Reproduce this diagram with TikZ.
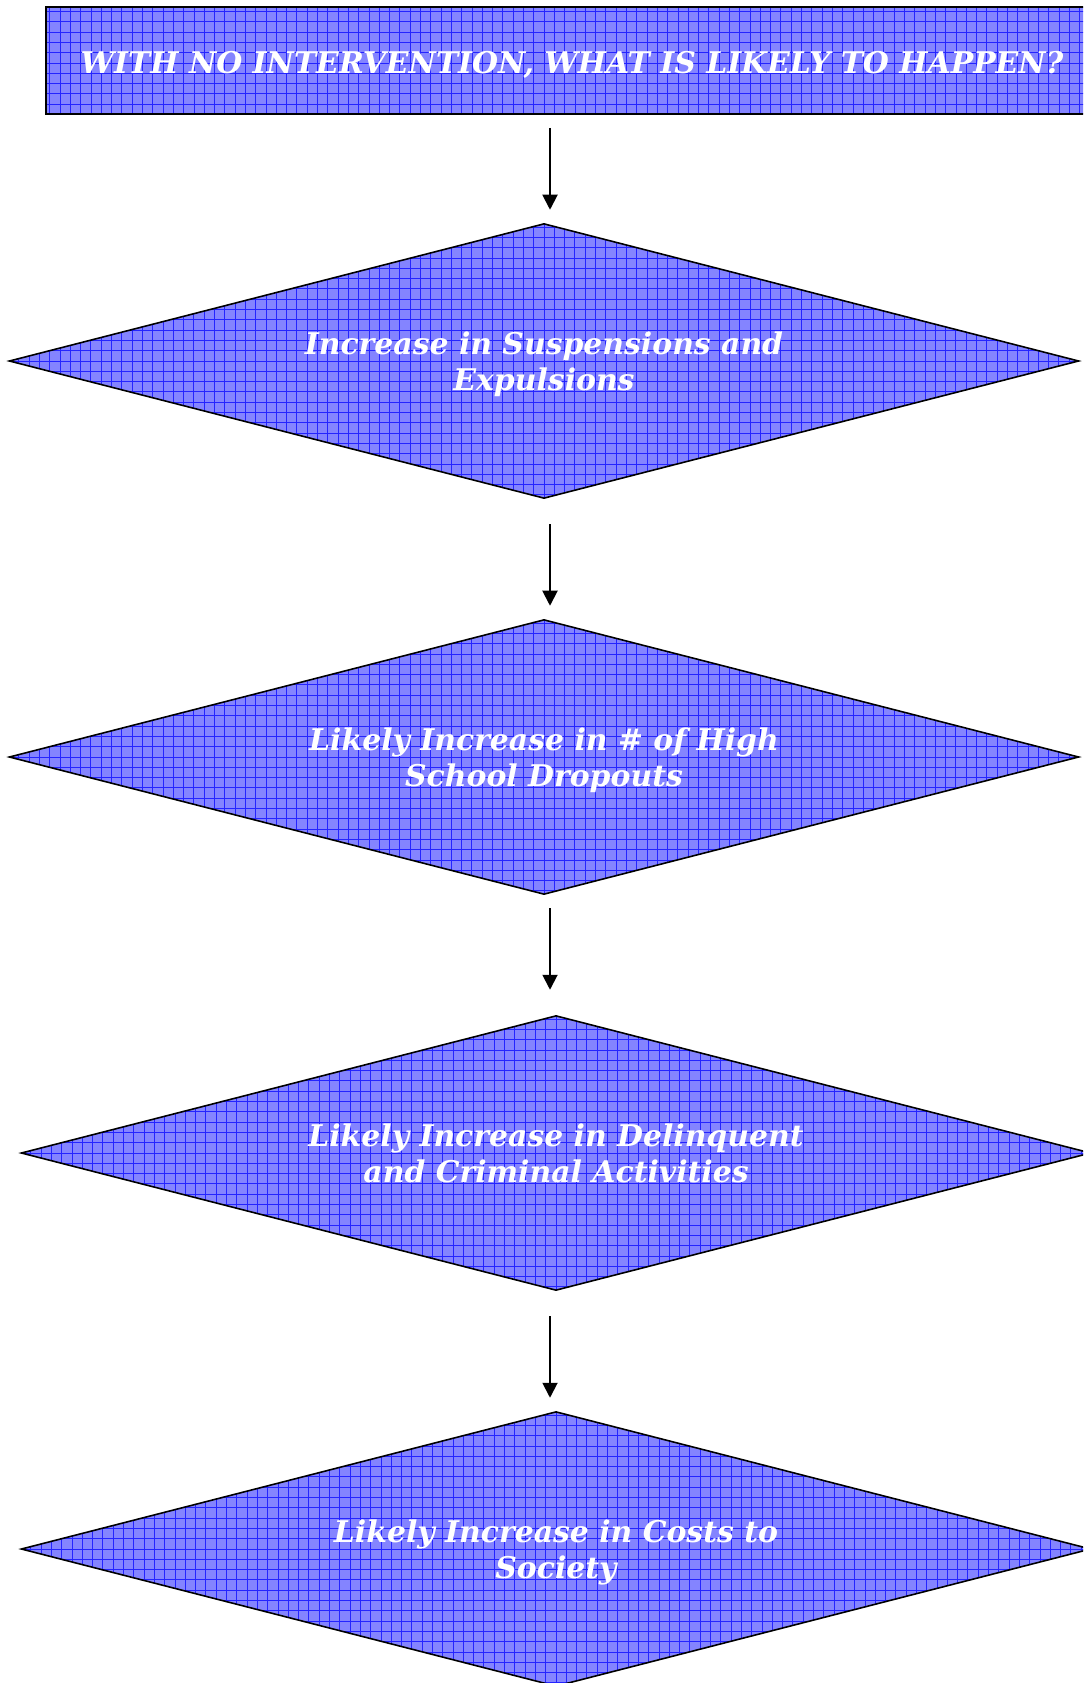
\documentclass[tikz,border=0pt]{standalone}
\usepackage{fontspec}
\setmainfont{DejaVu Serif}
\usetikzlibrary{shapes.geometric,arrows.meta}
\definecolor{patfill}{RGB}{132,132,255}
\definecolor{patline}{RGB}{36,36,255}

\begin{document}
\begin{tikzpicture}[x=0.02cm,y=-0.02cm,
    gridfill/.style={fill=patfill,
      path picture={\draw[line width=0.5pt, color=patline] (path picture bounding box.south west) grid[step=0.206cm] (path picture bounding box.north east);}},
    label text/.style={text=white, align=center, font=\bfseries\itshape\fontsize{17}{20.5}\selectfont},
    qbox/.style={draw, line width=0.9pt, gridfill, rectangle, minimum width=21.04cm, minimum height=2.14cm, inner sep=0pt, text height=17pt, text depth=2.4pt, label text},
    dbox/.style={draw, line width=0.9pt, gridfill, diamond, aspect=3.9, minimum width=21.4cm, minimum height=5.5cm, inner sep=0pt, text height=37.4pt, text depth=4pt, label text},
    flow/.style={line width=1.1pt, -{Triangle[length=0.3cm,width=0.3cm]}}]
			%%%%% START %%%%%
			\useasboundingbox (0, 0) rectangle (1083, 1683);
			\clip (0, 0) rectangle (1083, 1683);
			
			\node[qbox] (question) at (572, 60.5) {WITH NO INTERVENTION, WHAT IS LIKELY TO HAPPEN?};
			
			\node[dbox] (suspend) at (544, 361) {Increase in Suspensions and\\Expulsions};
			\node[dbox] (dropout) at (544, 757) {Likely Increase in \# of High\\School Dropouts};
			\node[dbox] (crime) at (556, 1153) {Likely Increase in Delinquent\\and Criminal Activities};
			\node[dbox] (costs) at (556, 1549) {Likely Increase in Costs to\\Society};
			
			\coordinate (axis) at (550, 0);
			
			\draw[flow, shorten <=0.26cm, shorten >=0.26cm] (question.south -| axis) -- (suspend.north -| axis);
			\draw[flow, shorten <=0.5cm, shorten >=0.26cm] (suspend.south -| axis) -- (dropout.north -| axis);
			\draw[flow, shorten <=0.26cm, shorten >=0.5cm] (dropout.south -| axis) -- (crime.north -| axis);
			\draw[flow, shorten <=0.5cm, shorten >=0.26cm] (crime.south -| axis) -- (costs.north -| axis);
			
			%%%%% END %%%%%
\end{tikzpicture}
\end{document}
